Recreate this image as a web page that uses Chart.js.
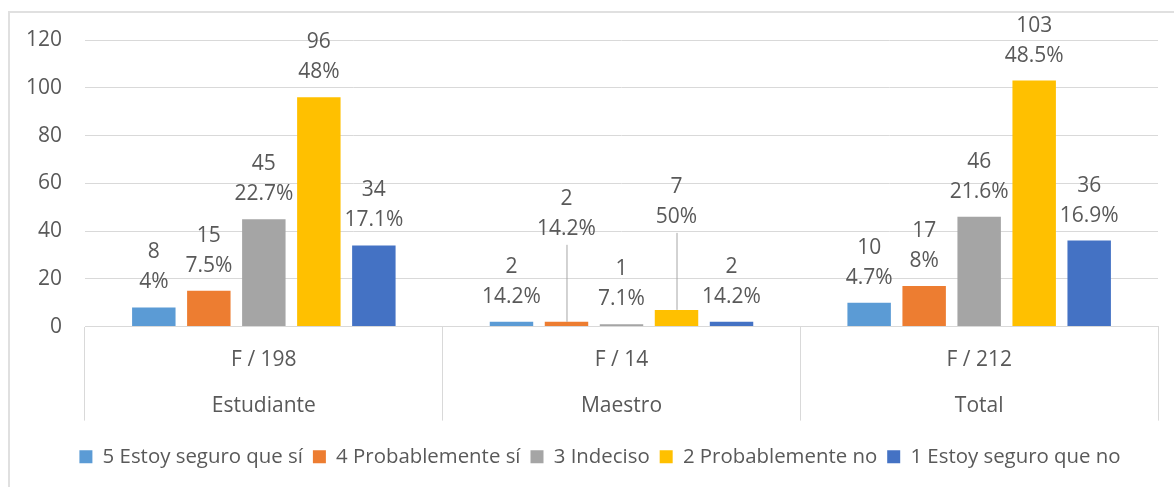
<!DOCTYPE html>
<html>
<head>
<meta charset="utf-8">
<script src="https://cdn.jsdelivr.net/npm/chart.js@4.4.0/dist/chart.umd.min.js"></script>
<style>
  html, body { margin: 0; padding: 0; background: #fff; overflow: hidden; }
  #frame {
    position: absolute; left: 8px; top: 11px; width: 1200px; height: 500px;
    border-left: 2px solid #e0e0e0; border-top: 2px solid #e0e0e0;
  }
  #chartContainer { position: absolute; left: 0; top: 0; width: 1174px; height: 487px; }
</style>
</head>
<body>
<div id="frame"></div>
<div id="chartContainer"><canvas id="myChart"></canvas></div>
<script>
// Categories (two-level axis: count / group)
const groups = ['Estudiante', 'Maestro', 'Total'];
const totals = ['F / 198', 'F / 14', 'F / 212'];

// Series
const seriesNames = ['5 Estoy seguro que sí', '4 Probablemente sí', '3 Indeciso', '2 Probablemente no', '1 Estoy seguro que no'];
const seguroSi = [8, 2, 10];
const probableSi = [15, 2, 17];
const indeciso = [45, 1, 46];
const probableNo = [96, 7, 103];
const seguroNo = [34, 2, 36];

// Percent labels as printed
const pctSeguroSi = ['4%', '14.2%', '4.7%'];
const pctProbableSi = ['7.5%', '14.2%', '8%'];
const pctIndeciso = ['22.7%', '7.1%', '21.6%'];
const pctProbableNo = ['48%', '50%', '48.5%'];
const pctSeguroNo = ['17.1%', '14.2%', '16.9%'];

// Y axis ticks
const yTicks = [0, 20, 40, 60, 80, 100, 120];

const colors = ['#5B9BD5', '#ED7D31', '#A5A5A5', '#FFC000', '#4472C4'];
const values = [seguroSi, probableSi, indeciso, probableNo, seguroNo];
const pcts = [pctSeguroSi, pctProbableSi, pctIndeciso, pctProbableNo, pctSeguroNo];

const textColor = '#595959';
const FONT = 'Open Sans';
const FS = 21;

// labels lifted above the bar with a leader line (datasetIndex-categoryIndex)
const lifted = { '1-1': 68, '3-1': 68 };

// Plugin to draw the value / percent labels above each bar
const barLabels = {
  id: 'barLabels',
  afterDatasetsDraw(chart) {
    const ctx = chart.ctx;
    ctx.save();
    ctx.font = FS + 'px "' + FONT + '"';
    ctx.fillStyle = textColor;
    ctx.textAlign = 'center';
    ctx.textBaseline = 'middle';
    chart.data.datasets.forEach((ds, di) => {
      const meta = chart.getDatasetMeta(di);
      meta.data.forEach((bar, i) => {
        const lift = lifted[di + '-' + i] || 0;
        const bottomLine = bar.y - 25 - lift;
        ctx.fillText(String(ds.data[i]), bar.x, bottomLine - 30);
        ctx.fillText(pcts[di][i], bar.x, bottomLine);
        if (lift) {
          ctx.strokeStyle = '#A6A6A6';
          ctx.lineWidth = 1;
          ctx.beginPath();
          ctx.moveTo(bar.x + 0.5, bottomLine + 16);
          ctx.lineTo(bar.x + 0.5, bar.y);
          ctx.stroke();
        }
      });
    });
    ctx.restore();
  }
};

// nudge the legend to the right, as in the original frame
const legendShift = {
  id: 'legendShift',
  afterLayout(chart) {
    if (chart.legend) {
      chart.legend.left += 17;
      chart.legend.right += 17;
    }
  }
};

window.onload = function() {
  const ctx = document.getElementById('myChart').getContext('2d');
  new Chart(ctx, {
    type: 'bar',
    data: {
      labels: groups.map((g, i) => [totals[i], g]),
      datasets: seriesNames.map((name, i) => ({
        label: name,
        data: values[i],
        backgroundColor: colors[i],
        borderWidth: 0,
        categoryPercentage: 0.769,
        barPercentage: 0.79
      }))
    },
    options: {
      responsive: true,
      maintainAspectRatio: false,
      animation: false,
      layout: { padding: { left: 8, right: 16, top: 40, bottom: 10 } },
      plugins: {
        tooltip: { enabled: false },
        legend: {
          position: 'bottom',
          labels: {
            boxWidth: 13,
            boxHeight: 13,
            padding: 10,
            color: textColor,
            font: { family: FONT, size: 20.4 }
          }
        }
      },
      scales: {
        x: {
          afterFit: s => { s.height = 110; },
          border: { display: true, color: '#D9D9D9', width: 1 },
          grid: {
            offset: true,
            drawOnChartArea: false,
            drawTicks: true,
            tickLength: 94,
            color: '#D9D9D9'
          },
          ticks: {
            color: textColor,
            padding: -84,
            maxRotation: 0,
            autoSkip: false,
            font: { family: FONT, size: FS, lineHeight: 46 / FS }
          }
        },
        y: {
          min: 0,
          max: 120,
          afterFit: s => { s.width = 77; },
          afterBuildTicks: s => { s.ticks = yTicks.map(v => ({ value: v })); },
          border: { display: false },
          grid: { color: '#D9D9D9', drawTicks: false, lineWidth: 1 },
          ticks: {
            color: textColor,
            padding: 23,
            font: { family: FONT, size: FS }
          }
        }
      }
    },
    plugins: [barLabels, legendShift]
  });
};
</script>
</body>
</html>
